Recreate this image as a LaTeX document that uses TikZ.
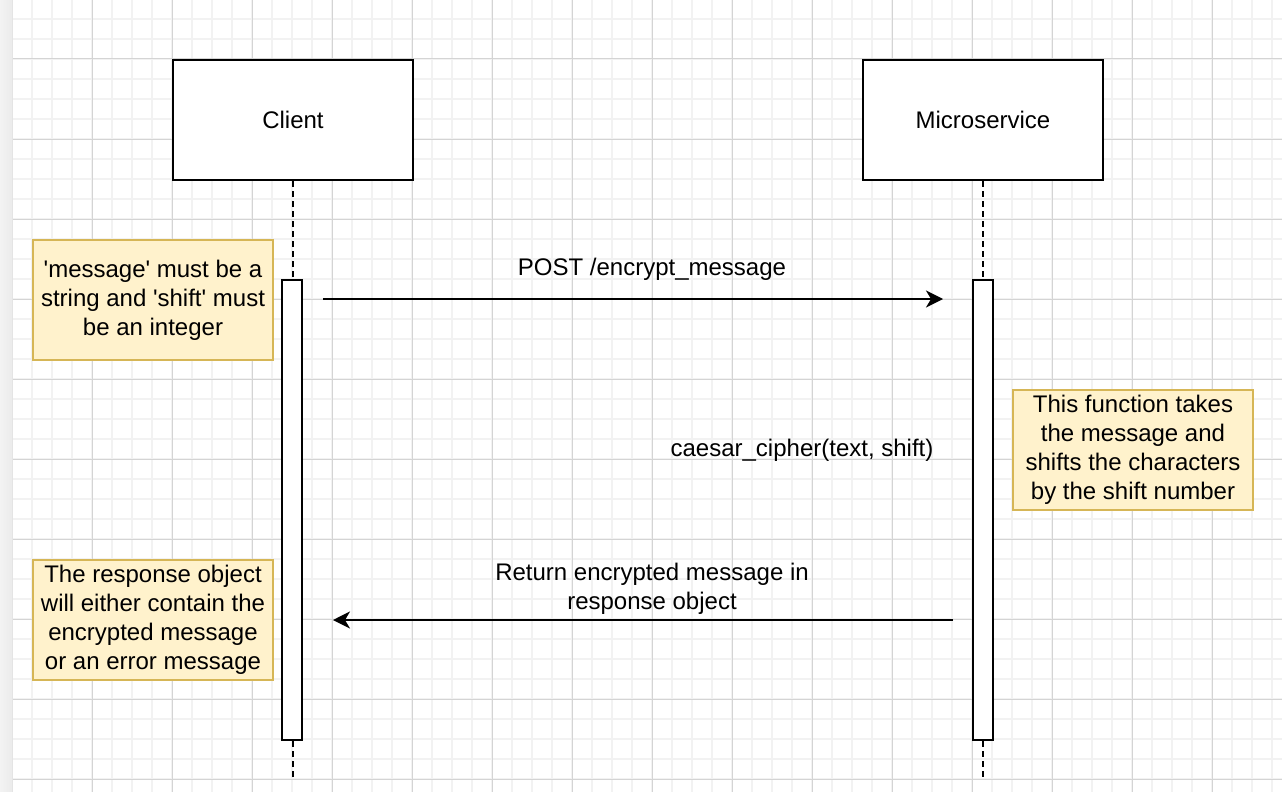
\documentclass[tikz,border=0pt]{standalone}
\usepackage{fontspec}
\setmainfont{Liberation Sans}
\usetikzlibrary{arrows.meta}
\definecolor{minorgrid}{HTML}{F2F2F2}
\definecolor{majorgrid}{HTML}{D4D4D4}
\definecolor{notefill}{HTML}{FFF2CC}
\definecolor{notedraw}{HTML}{D6B656}
\definecolor{stripgrey}{HTML}{EBEBEB}
\tikzset{
  actor/.style={draw=black, line width=2pt, fill=white, minimum width=240pt, minimum height=120pt, inner sep=0pt, font=\fontsize{24}{29}\selectfont},
  activation/.style={draw=black, line width=2pt, fill=white, minimum width=20pt, minimum height=460pt, inner sep=0pt},
  note/.style={draw=notedraw, line width=2pt, fill=notefill, minimum width=240pt, minimum height=120pt, inner sep=0pt, align=center, font=\fontsize{24}{29}\selectfont},
  label/.style={inner sep=0pt, align=center, font=\fontsize{24}{29}\selectfont},
  lifeline/.style={line width=2pt, dash pattern=on 6pt off 4pt},
  message/.style={line width=2pt, -{Stealth[length=17pt,width=17pt,inset=5pt]}},
}
\newcommand{\sq}{\textquotesingle}
\begin{document}
\begin{tikzpicture}[x=1pt,y=-1pt]
\useasboundingbox (0,0) rectangle (1282,792);
% background and grid
\fill[white] (0,0) rectangle (1282,792);
\shade[left color=stripgrey!60, right color=stripgrey] (0,0) rectangle (12,792);
\draw[stripgrey!80!black!40] (12.5,0) -- (12.5,792);
\foreach \x in {32,52,...,1282} \draw[minorgrid, line width=2pt] (\x,0) -- (\x,792);
\foreach \y in {19,39,...,792} \draw[minorgrid, line width=2pt] (13,\y) -- (1282,\y);
\foreach \x in {92,172,...,1282} \draw[majorgrid, line width=1pt] (\x,0) -- (\x,792);
\foreach \y in {59,139,...,792} \draw[majorgrid, line width=1pt] (13,\y) -- (1282,\y);

% actors
\node[actor] (client) at (293,120) {Client};
\node[actor] (micro) at (983,120) {Microservice};

% lifelines
\coordinate (clientend) at (293,779);
\coordinate (microend) at (983,780);
\draw[lifeline] (client.south) -- (clientend);
\draw[lifeline] (micro.south) -- (microend);

% activation bars
\node[activation] (clientbar) at (292,510) {};
\node[activation] (microbar) at (983,510) {};

% notes
\node[note] (note1) at (153,300) {\sq message\sq{} must be a\\string and \sq shift\sq{} must\\be an integer};
\node[note] (note2) at (1133,450) {This function takes\\the message and\\shifts the characters\\by the shift number};
\node[note] (note3) at (153,620) {The response object\\will either contain the\\encrypted message\\or an error message};

% messages
\coordinate (postfrom) at (323,299);
\coordinate (postto) at (943,299);
\draw[message] (postfrom) -- (postto);
\node[label] (postlabel) at (652,269) {POST /encrypt\_message};

\node[label] (caesar) at (802,450) {caesar\_cipher(text, shift)};

\coordinate (retfrom) at (953,620);
\coordinate (retto) at (333,620);
\draw[message] (retfrom) -- (retto);
\node[label] (retlabel) at (652,589) {Return encrypted message in\\response object};
\end{tikzpicture}
\end{document}
